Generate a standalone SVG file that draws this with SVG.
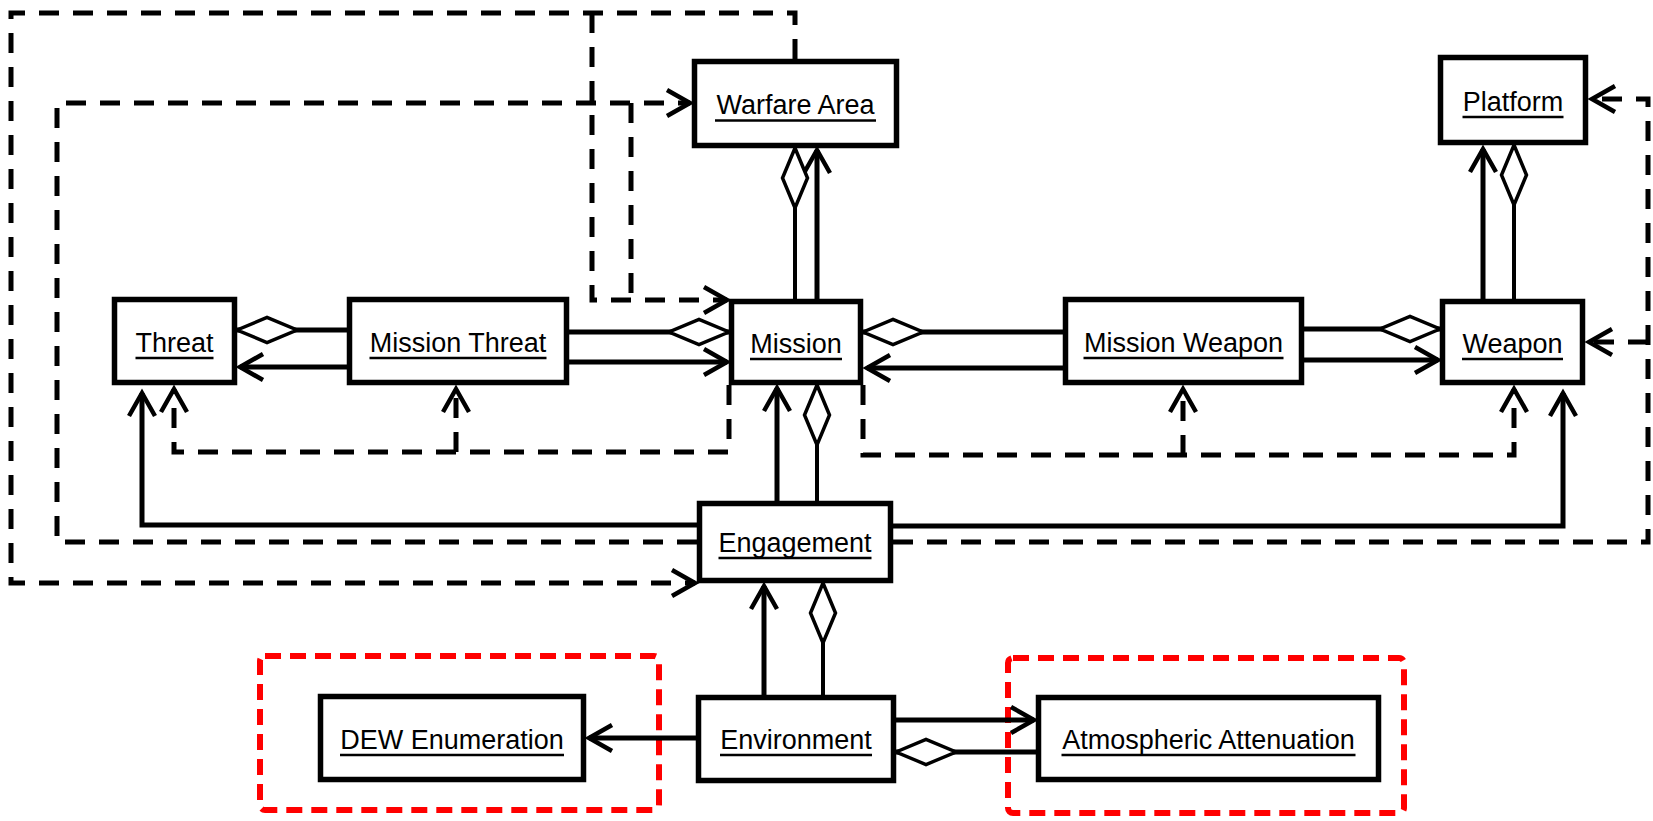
<svg xmlns="http://www.w3.org/2000/svg" width="1653" height="821" viewBox="0 0 1653 821">
<style>
.box{fill:#fff;stroke:#000;stroke-width:5.5}
.lbl{font-family:"Liberation Sans",Arial,sans-serif;font-size:27px;fill:#000;text-anchor:middle}
.ul{stroke:#000;stroke-width:2.5}
.s{fill:none;stroke:#000;stroke-width:5}
.sd{fill:none;stroke:#000;stroke-width:4}
.d{fill:none;stroke:#000;stroke-width:5;stroke-dasharray:20 14}
.grp{fill:none;stroke:#f00;stroke-width:6;stroke-dasharray:16 9}
.arr{marker-end:url(#arrow)}
.dia{marker-start:url(#diamond)}
</style>
<defs>
<marker id="arrow" markerUnits="userSpaceOnUse" viewBox="-30 -20 40 40" refX="0" refY="0" markerWidth="40" markerHeight="40" orient="auto" overflow="visible">
<path d="M-23,-13 L0,0 L-23,13" fill="none" stroke="#000" stroke-width="4.5" stroke-dasharray="none"/>
</marker>
<marker id="diamond" markerUnits="userSpaceOnUse" viewBox="-5 -20 75 40" refX="0" refY="0" markerWidth="75" markerHeight="40" orient="auto" overflow="visible">
<path d="M0,0 L30,-12.5 L60,0 L30,12.5 Z" fill="#fff" stroke="#000" stroke-width="3.5" stroke-dasharray="none"/>
</marker>
</defs>

<g id="groups">
<rect class="grp" x="260" y="656" width="399" height="154" rx="5"/>
<rect class="grp" x="1008" y="658" width="396" height="155" rx="5"/>
</g>

<g id="connectors">
<!-- dashed -->
<path class="d arr" d="M795,59 V13 H11 V583 H695"/>
<path class="d arr" d="M592,13 V300 H727"/>
<path class="d arr" d="M697,542 H57 V103 H690"/>
<path class="d" d="M631,103 V300"/>
<path class="d arr" d="M729,385 V452 H174 V389"/>
<path class="d arr" d="M456,452 V389"/>
<path class="d arr" d="M863,385 V455 H1514 V389"/>
<path class="d arr" d="M1183,455 V389"/>
<path class="d arr" d="M893,542 H1648 V99 H1592"/>
<path class="d arr" d="M1648,342 H1589"/>
<!-- solid -->
<path class="s arr" d="M817,299 V150"/>
<path class="sd dia" d="M795,148 V299"/>
<path class="s arr" d="M1483,299 V149"/>
<path class="sd dia" d="M1514,145 V299"/>
<path class="s dia" d="M237,330 H347"/>
<path class="s arr" d="M347,367 H240"/>
<path class="s dia" d="M729,332 H569"/>
<path class="s arr" d="M569,362 H727"/>
<path class="s dia" d="M863,332 H1063"/>
<path class="s arr" d="M1063,368 H867"/>
<path class="s dia" d="M1440,329 H1304"/>
<path class="s arr" d="M1304,360 H1438"/>
<path class="s arr" d="M777,501 V388"/>
<path class="sd dia" d="M817,385 V501"/>
<path class="s arr" d="M697,525 H142 V393"/>
<path class="s arr" d="M893,526 H1563 V393"/>
<path class="s arr" d="M764,695 V586"/>
<path class="sd dia" d="M823,583 V695"/>
<path class="s arr" d="M696,738 H589"/>
<path class="s arr" d="M896,720 H1034"/>
<path class="s dia" d="M896,752 H1036"/>
</g>

<g id="warfare-area">
<rect class="box" x="694.5" y="61.5" width="202" height="84"/>
<text class="lbl" x="795.5" y="114">Warfare Area</text>
<line class="ul" x1="715" y1="120.5" x2="876" y2="120.5"/>
</g>
<g id="platform">
<rect class="box" x="1440.5" y="57.5" width="145" height="85"/>
<text class="lbl" x="1513" y="111">Platform</text>
<line class="ul" x1="1462.5" y1="117" x2="1563.5" y2="117"/>
</g>
<g id="threat">
<rect class="box" x="114.5" y="299.5" width="120" height="83"/>
<text class="lbl" x="174.5" y="352">Threat</text>
<line class="ul" x1="135.5" y1="358" x2="213.5" y2="358"/>
</g>
<g id="mission-threat">
<rect class="box" x="349.5" y="299.5" width="217" height="83"/>
<text class="lbl" x="458" y="352">Mission Threat</text>
<line class="ul" x1="369.5" y1="358" x2="546.5" y2="358"/>
</g>
<g id="mission">
<rect class="box" x="731.5" y="301.5" width="129" height="81"/>
<text class="lbl" x="796" y="353">Mission</text>
<line class="ul" x1="750" y1="359" x2="842" y2="359"/>
</g>
<g id="mission-weapon">
<rect class="box" x="1065.5" y="299.5" width="236" height="83"/>
<text class="lbl" x="1183.5" y="352">Mission Weapon</text>
<line class="ul" x1="1083.5" y1="358" x2="1283.5" y2="358"/>
</g>
<g id="weapon">
<rect class="box" x="1442.5" y="301.5" width="140" height="81"/>
<text class="lbl" x="1512.5" y="353">Weapon</text>
<line class="ul" x1="1462" y1="359" x2="1563" y2="359"/>
</g>
<g id="engagement">
<rect class="box" x="699.5" y="503.5" width="191" height="77"/>
<text class="lbl" x="795" y="552">Engagement</text>
<line class="ul" x1="718.5" y1="558" x2="871.5" y2="558"/>
</g>
<g id="environment">
<rect class="box" x="698.5" y="697.5" width="195" height="83"/>
<text class="lbl" x="796" y="749">Environment</text>
<line class="ul" x1="720" y1="755" x2="872" y2="755"/>
</g>
<g id="dew-enumeration">
<rect class="box" x="320.5" y="696.5" width="263" height="83"/>
<text class="lbl" x="452" y="749">DEW Enumeration</text>
<line class="ul" x1="340" y1="755" x2="564" y2="755"/>
</g>
<g id="atmospheric-attenuation">
<rect class="box" x="1038.5" y="697.5" width="340" height="82"/>
<text class="lbl" x="1208.5" y="749">Atmospheric Attenuation</text>
<line class="ul" x1="1061.5" y1="755" x2="1355.5" y2="755"/>
</g>
</svg>
